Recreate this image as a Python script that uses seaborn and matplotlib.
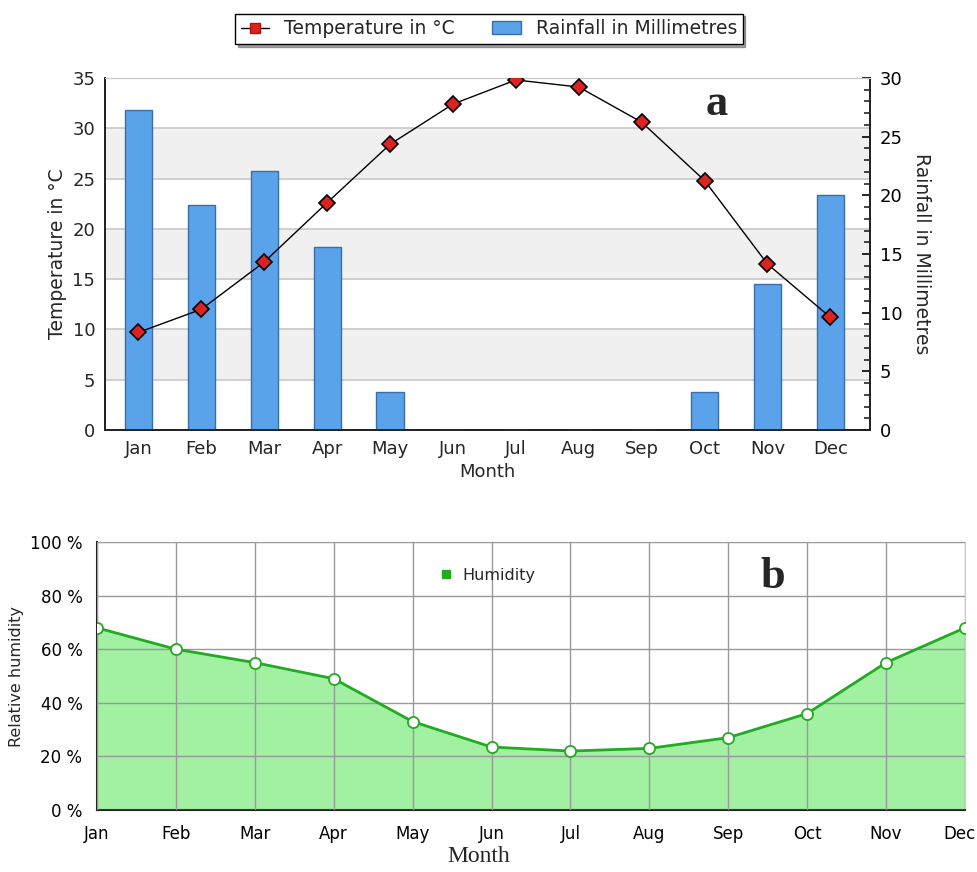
import numpy as np
import pandas as pd
import matplotlib
matplotlib.use('Agg')
import matplotlib.pyplot as plt
import matplotlib.transforms as mtransforms
import seaborn as sns
from matplotlib.lines import Line2D
from matplotlib.patches import Patch

sns.set_style('white')
plt.rcParams['font.family'] = ['DejaVu Sans']

months = ['Jan', 'Feb', 'Mar', 'Apr', 'May', 'Jun', 'Jul', 'Aug', 'Sep', 'Oct', 'Nov', 'Dec']
temperature = [9.7, 12.0, 16.7, 22.6, 28.4, 32.4, 34.8, 34.1, 30.6, 24.8, 16.5, 11.2]
rainfall = [27.3, 19.2, 22.1, 15.6, 3.2, 0, 0, 0, 0, 3.2, 12.4, 20.0]
humidity = [68, 60, 55, 49, 33, 23.5, 22, 23, 27, 36, 55, 68]

df = pd.DataFrame({'month': months, 'idx': np.arange(len(months)),
                   'temp': temperature, 'rain': rainfall, 'hum': humidity})

fig = plt.figure(figsize=(9.78, 8.72), dpi=100)

# ---- panel a : temperature + rainfall
ax = fig.add_axes([0.1074, 0.5069, 0.7822, 0.4037])
for lo in (5, 15, 25):
    ax.axhspan(lo, lo + 5, color='#f0f0f0', zorder=0, lw=0)
for y in range(5, 36, 5):
    ax.axhline(y, color='#c8c8c8', lw=1.2, zorder=1)
ax.set_ylim(0, 35)
ax.set_yticks(range(0, 36, 5))
ax.set_ylabel('Temperature in °C', fontsize=13.5, labelpad=4)

ax2 = ax.twinx()
sns.barplot(data=df, x='month', y='rain', ax=ax2, color='#5aa2ea',
            edgecolor='#3a6ea8', linewidth=1, width=0.43, saturation=1)
ax2.set_ylim(0, 30)
ax2.set_yticks(range(0, 31, 5))
ax2.set_yticks(range(0, 31), minor=True)
ax2.set_ylabel('Rainfall in Millimetres', fontsize=13.5, rotation=270, labelpad=20)
ax2.set_xlabel('')

ax3 = ax.twinx()
sns.lineplot(data=df, x='idx', y='temp', ax=ax3, color='black', lw=1,
             marker='D', markersize=8, markerfacecolor='#dd2222',
             markeredgecolor='black', markeredgewidth=1.2)
ax3.set_ylim(0, 35)
ax3.axis('off')

for a in (ax, ax2, ax3):
    a.set_xlim(-0.53, 11.63)
ax.set_xticks(range(12))
ax.set_xticklabels(months)
ax.set_xlabel('Month', fontsize=13, labelpad=4)
ax.tick_params(axis='both', labelsize=13, length=0, pad=7)
ax2.tick_params(axis='y', which='major', labelsize=13, length=6, width=1.2, direction='in', pad=7, colors='black')
ax2.tick_params(axis='y', which='minor', length=4, width=1.2, direction='in')
ax2.tick_params(axis='x', length=0, labelbottom=False)
for a in (ax, ax2):
    for s in ('left', 'bottom', 'right'):
        a.spines[s].set_color('#222222')
        a.spines[s].set_linewidth(1.3)
    a.spines['top'].set_color('#c8c8c8')
ax.text(0.80, 0.925, 'a', transform=ax.transAxes, fontsize=32, fontweight='bold',
        family='Liberation Serif', ha='center', va='center')

handles = [Line2D([0], [0], color='black', lw=1, marker='s', markersize=7,
                  markerfacecolor='#dd2222', markeredgecolor='#aa1111'),
           Patch(facecolor='#5aa2ea', edgecolor='#3a6ea8')]
fig.legend(handles, ['Temperature in °C', 'Rainfall in Millimetres'], loc='center',
           bbox_to_anchor=(0.5, 0.967), ncol=2, fontsize=13.5, frameon=True,
           fancybox=False, shadow=True, edgecolor='black', handlelength=1.5,
           columnspacing=2, borderpad=0.3)

# ---- panel b : humidity
bx = fig.add_axes([0.0992, 0.0711, 0.8875, 0.3073])
bx.fill_between(df['idx'], df['hum'], 0, color='#a2f0a2', lw=0, zorder=2)
sns.lineplot(data=df, x='idx', y='hum', ax=bx, color='#22aa22', lw=2, zorder=3,
             marker='o', markersize=8, markerfacecolor='white',
             markeredgecolor='#22aa22', markeredgewidth=1.3)
bx.set_xlim(0, 11)
bx.set_ylim(0, 100)
bx.set_xticks(range(12))
bx.set_xticklabels(months)
bx.set_yticks(range(0, 101, 20))
bx.set_yticklabels([f'{v} %' for v in range(0, 101, 20)])
bx.grid(True, color='#999999', lw=1)
bx.set_axisbelow(False)
for gl in bx.get_xgridlines() + bx.get_ygridlines():
    gl.set_zorder(2.5)
bx.tick_params(axis='both', labelsize=12, length=7, width=1.2, direction='out', colors='black')
# keep the last month label inside the figure
last = bx.get_xticklabels()[-1]
last.set_transform(last.get_transform() + mtransforms.ScaledTranslation(-4 / 72, 0, fig.dpi_scale_trans))
for s in ('left', 'bottom'):
    bx.spines[s].set_color('#222222')
    bx.spines[s].set_linewidth(1.5)
for s in ('top', 'right'):
    bx.spines[s].set_color('#cccccc')
bx.set_ylabel('Relative humidity', fontsize=11.5)
bx.set_xlabel('Month', fontsize=17, family='Liberation Serif', labelpad=2)
bx.xaxis.set_label_coords(0.44, -0.135)
bx.legend([Line2D([0], [0], lw=0, marker='s', markersize=6, color='#22aa22')], ['Humidity'],
          loc='center', bbox_to_anchor=(0.45, 0.875), frameon=False, fontsize=11.5,
          handlelength=0.8, handletextpad=0.6)
bx.text(0.778, 0.87, 'b', transform=bx.transAxes, fontsize=32, fontweight='bold',
        family='Liberation Serif', ha='center', va='center')

fig.savefig('out.png', dpi=100)
